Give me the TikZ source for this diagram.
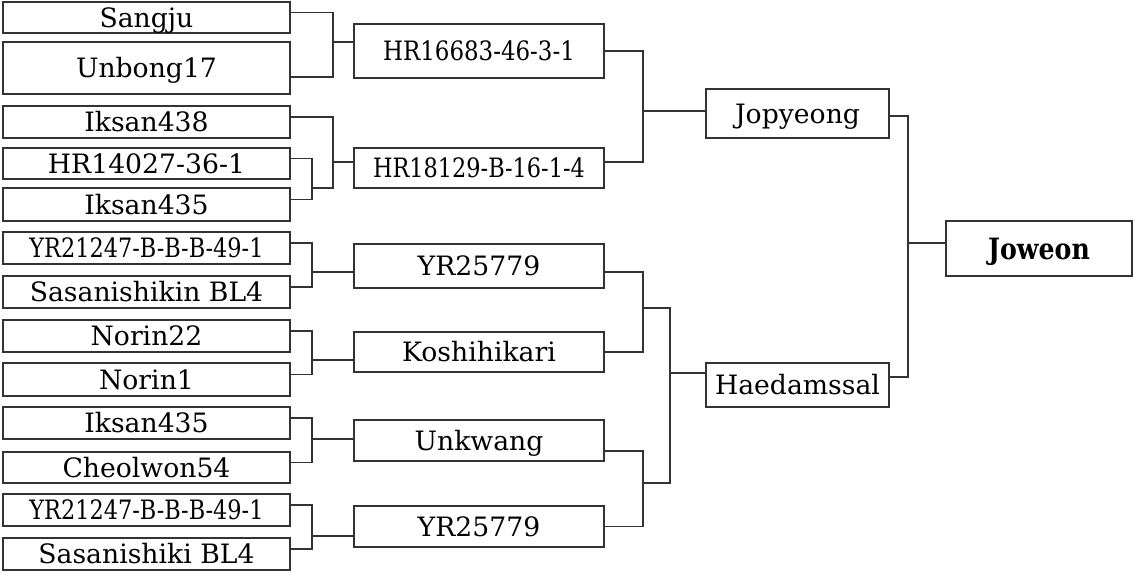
\documentclass[tikz,border=0pt]{standalone}
\usepackage{fontspec}
\setmainfont{DejaVu Serif}
\usetikzlibrary{calc}
\definecolor{ink}{HTML}{333333}
\tikzset{
  box/.style={draw=ink,line width=0.9pt,inner sep=0pt,align=center,
              font=\fontsize{20}{22}\selectfont,text height=14.5pt,text depth=0pt},
  leaf/.style={box,minimum width=215.25pt,minimum height=24pt},
  cross/.style={box,minimum width=187.5pt,minimum height=30pt},
  final/.style={box,minimum width=137.25pt,minimum height=33pt},
  link/.style={draw=ink,line width=0.9pt}
}
\newcommand{\narrow}[2][0.84]{\scalebox{#1}[1]{#2}}

\begin{document}
\begin{tikzpicture}[x=0.75pt,y=-0.75pt]
    \useasboundingbox (0,0) rectangle (1134,572);
    % parents
    \node[leaf,minimum height=23.25pt] (sangju) at (146.5,17.5) {Sangju};
    \node[leaf,minimum height=39pt] (unbong) at (146.5,68) {Unbong17};
    \node[leaf] (iksanA) at (146.5,122) {Iksan438};
    \node[leaf,minimum height=23.25pt] (hrA) at (146.5,163.5) {HR14027-36-1};
    \node[leaf,minimum height=24.75pt] (iksanB) at (146.5,204.5) {Iksan435};
    \node[leaf] (yrA) at (146.5,248) {\narrow{YR21247-B-B-B-49-1}};
    \node[leaf] (sasanA) at (146.5,292) {Sasanishikin BL4};
    \node[leaf] (norinA) at (146.5,336) {Norin22};
    \node[leaf,minimum height=24.75pt] (norinB) at (146.5,379.5) {Norin1};
    \node[leaf] (iksanC) at (146.5,423) {Iksan435};
    \node[leaf,minimum height=23.25pt] (cheol) at (146.5,467.5) {Cheolwon54};
    \node[leaf] (yrB) at (146.5,510) {\narrow{YR21247-B-B-B-49-1}};
    \node[leaf] (sasanB) at (146.5,554) {Sasanishiki BL4};
    % crosses
    \node[cross,minimum height=40.5pt] (hr1) at (479,51) {\narrow[0.86]{HR16683-46-3-1}};
    \node[cross] (hr2) at (479,168) {\narrow{HR18129-B-16-1-4}};
    \node[cross,minimum height=33pt] (yr1) at (479,266) {YR25779};
    \node[cross] (kosh) at (479,352) {Koshihikari};
    \node[cross,minimum height=30.75pt] (unk) at (479,440.5) {Unkwang};
    \node[cross,minimum height=30.75pt] (yr2) at (479,526.5) {YR25779};
    \node[final,minimum height=36.75pt] (jop) at (797.5,113.5) {Jopyeong};
    \node[final] (haed) at (797.5,385) {Haedamssal};
    \node[box,minimum width=139.5pt,minimum height=41.25pt,text height=16pt,
          font=\fontsize{22}{24}\selectfont\bfseries] (jow) at (1039,248.5) {\narrow[0.86]{Joweon}};
    % junctions
    \coordinate (j1) at (333,42);
    \coordinate (j2) at (312,188);
    \coordinate (j3) at (333,162);
    \coordinate (j4) at (312,272);
    \coordinate (j5) at (312,360);
    \coordinate (j6) at (312,439);
    \coordinate (j7) at (312,536);
    \coordinate (k1) at (643,111);
    \coordinate (k2) at (643,308);
    \coordinate (k3) at (643,483);
    \coordinate (m1) at (670,373);
    \coordinate (f1) at (908,243);
    \draw[link] ([yshift=3.75pt]sangju.east) -| (j1) |- ([yshift=-6.75pt]unbong.east);
    \draw[link] ([yshift=3.75pt]iksanA.east) -| (j3) |- (j2);
    \foreach \a/\b/\j in {hrA/iksanB/j2,yrA/sasanA/j4,norinA/norinB/j5,iksanC/cheol/j6,yrB/sasanB/j7}
      \draw[link] ([yshift=3.75pt]\a.east) -| (\j) |- ([yshift=3.75pt]\b.east);
    \draw[link] (hr1.east) -| (k1) |- ([yshift=4.5pt]hr2.east);
    \draw[link] ([yshift=-4.5pt]yr1.east) -| (k2) |- (kosh.east);
    \draw[link] ([yshift=-7.9pt]unk.east) -| (k3) |- (yr2.east);
    \draw[link] (k2) -| (m1) |- (k3);
    \draw[link] ([yshift=-1.9pt]jop.east) -| (f1) |- ([yshift=6pt]haed.east);
    \foreach \j/\t in {j1/hr1,j3/hr2,j4/yr1,j5/kosh,j6/unk,j7/yr2,k1/jop,m1/haed,f1/jow}
      \draw[link] (\j) -- (\j -| \t.west);
\end{tikzpicture}
\end{document}
